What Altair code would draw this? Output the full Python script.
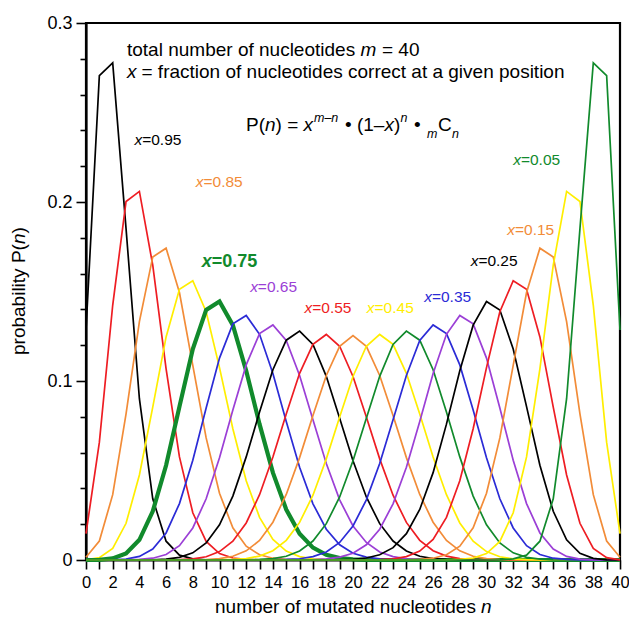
import altair as alt
import pandas as pd

# ---------------- data ----------------
N = list(range(41))
FRACTIONS = ["0.95", "0.90", "0.85", "0.80", "0.75", "0.70", "0.65", "0.60", "0.55", "0.50",
             "0.45", "0.40", "0.35", "0.30", "0.25", "0.20", "0.15", "0.10", "0.05"]

P_095 = [0.1285, 0.2706, 0.2777, 0.1851, 0.0901, 0.0342, 0.0105, 0.0027, 0.0006, 0.0001,
         0, 0, 0, 0, 0, 0, 0, 0, 0, 0,
         0, 0, 0, 0, 0, 0, 0, 0, 0, 0,
         0, 0, 0, 0, 0, 0, 0, 0, 0, 0,
         0]
P_090 = [0.0148, 0.0657, 0.1423, 0.2003, 0.2059, 0.1647, 0.1068, 0.0576, 0.0264, 0.0104,
         0.0036, 0.0011, 0.0003, 0.0001, 0, 0, 0, 0, 0, 0,
         0, 0, 0, 0, 0, 0, 0, 0, 0, 0,
         0, 0, 0, 0, 0, 0, 0, 0, 0, 0,
         0]
P_085 = [0.0015, 0.0106, 0.0365, 0.0816, 0.1332, 0.1693, 0.1742, 0.1494, 0.1087, 0.0682,
         0.0373, 0.0180, 0.0077, 0.0029, 0.0010, 0.0003, 0.0001, 0, 0, 0,
         0, 0, 0, 0, 0, 0, 0, 0, 0, 0,
         0, 0, 0, 0, 0, 0, 0, 0, 0, 0,
         0]
P_080 = [0.0001, 0.0013, 0.0065, 0.0205, 0.0475, 0.0854, 0.1246, 0.1513, 0.1560, 0.1387,
         0.1075, 0.0733, 0.0443, 0.0238, 0.0115, 0.0050, 0.0019, 0.0007, 0.0002, 0.0001,
         0, 0, 0, 0, 0, 0, 0, 0, 0, 0,
         0, 0, 0, 0, 0, 0, 0, 0, 0, 0,
         0]
P_075 = [0, 0.0001, 0.0009, 0.0037, 0.0113, 0.0272, 0.0529, 0.0857, 0.1179, 0.1397,
         0.1444, 0.1312, 0.1057, 0.0759, 0.0488, 0.0282, 0.0147, 0.0069, 0.0029, 0.0011,
         0.0004, 0.0001, 0, 0, 0, 0, 0, 0, 0, 0,
         0, 0, 0, 0, 0, 0, 0, 0, 0, 0,
         0]
P_070 = [0, 0, 0.0001, 0.0005, 0.0020, 0.0061, 0.0151, 0.0315, 0.0557, 0.0849,
         0.1128, 0.1319, 0.1366, 0.1261, 0.1042, 0.0774, 0.0518, 0.0314, 0.0172, 0.0085,
         0.0038, 0.0016, 0.0006, 0.0002, 0.0001, 0, 0, 0, 0, 0,
         0, 0, 0, 0, 0, 0, 0, 0, 0, 0,
         0]
P_065 = [0, 0, 0, 0.0001, 0.0003, 0.0010, 0.0031, 0.0080, 0.0179, 0.0342,
         0.0571, 0.0838, 0.1090, 0.1265, 0.1313, 0.1226, 0.1031, 0.0784, 0.0539, 0.0336,
         0.0190, 0.0098, 0.0045, 0.0019, 0.0007, 0.0003, 0.0001, 0, 0, 0,
         0, 0, 0, 0, 0, 0, 0, 0, 0, 0,
         0]
P_060 = [0, 0, 0, 0, 0, 0.0001, 0.0005, 0.0015, 0.0040, 0.0095,
         0.0197, 0.0357, 0.0576, 0.0827, 0.1063, 0.1228, 0.1279, 0.1204, 0.1026, 0.0792,
         0.0554, 0.0352, 0.0203, 0.0106, 0.0050, 0.0021, 0.0008, 0.0003, 0.0001, 0,
         0, 0, 0, 0, 0, 0, 0, 0, 0, 0,
         0]
P_055 = [0, 0, 0, 0, 0, 0, 0, 0.0002, 0.0006, 0.0018,
         0.0047, 0.0105, 0.0207, 0.0365, 0.0575, 0.0816, 0.1043, 0.1205, 0.1260, 0.1194,
         0.1025, 0.0799, 0.0565, 0.0362, 0.0210, 0.0110, 0.0052, 0.0022, 0.0008, 0.0003,
         0.0001, 0, 0, 0, 0, 0, 0, 0, 0, 0,
         0]
P_050 = [0, 0, 0, 0, 0, 0, 0, 0, 0.0001, 0.0002,
         0.0008, 0.0021, 0.0051, 0.0109, 0.0211, 0.0366, 0.0572, 0.0807, 0.1031, 0.1194,
         0.1254, 0.1194, 0.1031, 0.0807, 0.0572, 0.0366, 0.0211, 0.0109, 0.0051, 0.0021,
         0.0008, 0.0002, 0.0001, 0, 0, 0, 0, 0, 0, 0,
         0]
P_045 = [0, 0, 0, 0, 0, 0, 0, 0, 0, 0,
         0.0001, 0.0003, 0.0008, 0.0022, 0.0052, 0.0110, 0.0210, 0.0362, 0.0565, 0.0799,
         0.1025, 0.1194, 0.1260, 0.1205, 0.1043, 0.0816, 0.0575, 0.0365, 0.0207, 0.0105,
         0.0047, 0.0018, 0.0006, 0.0002, 0, 0, 0, 0, 0, 0,
         0]
P_040 = [0, 0, 0, 0, 0, 0, 0, 0, 0, 0,
         0, 0, 0.0001, 0.0003, 0.0008, 0.0021, 0.0050, 0.0106, 0.0203, 0.0352,
         0.0554, 0.0792, 0.1026, 0.1204, 0.1279, 0.1228, 0.1063, 0.0827, 0.0576, 0.0357,
         0.0197, 0.0095, 0.0040, 0.0015, 0.0005, 0.0001, 0, 0, 0, 0,
         0]
P_035 = [0, 0, 0, 0, 0, 0, 0, 0, 0, 0,
         0, 0, 0, 0, 0.0001, 0.0003, 0.0007, 0.0019, 0.0045, 0.0098,
         0.0190, 0.0336, 0.0539, 0.0784, 0.1031, 0.1226, 0.1313, 0.1265, 0.1090, 0.0838,
         0.0571, 0.0342, 0.0179, 0.0080, 0.0031, 0.0010, 0.0003, 0.0001, 0, 0,
         0]
P_030 = [0, 0, 0, 0, 0, 0, 0, 0, 0, 0,
         0, 0, 0, 0, 0, 0, 0.0001, 0.0002, 0.0006, 0.0016,
         0.0038, 0.0085, 0.0172, 0.0314, 0.0518, 0.0774, 0.1042, 0.1261, 0.1366, 0.1319,
         0.1128, 0.0849, 0.0557, 0.0315, 0.0151, 0.0061, 0.0020, 0.0005, 0.0001, 0,
         0]
P_025 = [0, 0, 0, 0, 0, 0, 0, 0, 0, 0,
         0, 0, 0, 0, 0, 0, 0, 0, 0, 0.0001,
         0.0004, 0.0011, 0.0029, 0.0069, 0.0147, 0.0282, 0.0488, 0.0759, 0.1057, 0.1312,
         0.1444, 0.1397, 0.1179, 0.0857, 0.0529, 0.0272, 0.0113, 0.0037, 0.0009, 0.0001,
         0]
P_020 = [0, 0, 0, 0, 0, 0, 0, 0, 0, 0,
         0, 0, 0, 0, 0, 0, 0, 0, 0, 0,
         0, 0.0001, 0.0002, 0.0007, 0.0019, 0.0050, 0.0115, 0.0238, 0.0443, 0.0733,
         0.1075, 0.1387, 0.1560, 0.1513, 0.1246, 0.0854, 0.0475, 0.0205, 0.0065, 0.0013,
         0.0001]
P_015 = [0, 0, 0, 0, 0, 0, 0, 0, 0, 0,
         0, 0, 0, 0, 0, 0, 0, 0, 0, 0,
         0, 0, 0, 0, 0.0001, 0.0003, 0.0010, 0.0029, 0.0077, 0.0180,
         0.0373, 0.0682, 0.1087, 0.1494, 0.1742, 0.1693, 0.1332, 0.0816, 0.0365, 0.0106,
         0.0015]
P_010 = [0, 0, 0, 0, 0, 0, 0, 0, 0, 0,
         0, 0, 0, 0, 0, 0, 0, 0, 0, 0,
         0, 0, 0, 0, 0, 0, 0, 0.0001, 0.0003, 0.0011,
         0.0036, 0.0104, 0.0264, 0.0576, 0.1068, 0.1647, 0.2059, 0.2003, 0.1423, 0.0657,
         0.0148]
P_005 = [0, 0, 0, 0, 0, 0, 0, 0, 0, 0,
         0, 0, 0, 0, 0, 0, 0, 0, 0, 0,
         0, 0, 0, 0, 0, 0, 0, 0, 0, 0,
         0, 0.0001, 0.0006, 0.0027, 0.0105, 0.0342, 0.0901, 0.1851, 0.2777, 0.2706,
         0.1285]

SERIES = [P_095, P_090, P_085, P_080, P_075, P_070, P_065, P_060, P_055, P_050,
          P_045, P_040, P_035, P_030, P_025, P_020, P_015, P_010, P_005]

LABELED = ["0.95", "0.85", "0.75", "0.65", "0.55", "0.45", "0.35", "0.25", "0.15", "0.05"]

Y_MAJOR = [0, 0.1, 0.2, 0.3]
Y_MINOR = [0.02, 0.04, 0.06, 0.08, 0.12, 0.14, 0.16, 0.18, 0.22, 0.24, 0.26, 0.28]

TEXT_LINE1 = ["total number of nucleotides", "m", "= 40"]
TEXT_LINE2 = ["x", "= fraction of nucleotides correct at a given position"]
X_TITLE = ["number of mutated nucleotides", "n"]
Y_TITLE = ["probability P(", "n", ")"]

# ---------------- styles / layout ----------------
CYCLE = ["#000000", "#EE1D23", "#F28C38", "#FFEE00", "#118A2C", "#2B2BD6", "#9B3FD6"]
BOLD_SERIES = "0.75"
FONT = "Liberation Sans"
OX, OY = 86, 23          # page position of the plot origin
W, H = 534, 537
SX = W / 540.0           # horizontal rescale of positions measured on the reference

LABEL_POS = {
    "0.95": (135, 140), "0.85": (197, 182), "0.75": (203, 262), "0.65": (252, 287),
    "0.55": (307, 308), "0.45": (370, 308), "0.35": (428, 297), "0.25": (475, 261),
    "0.15": (512, 230), "0.05": (518, 160),
}

rows = []
for i, (frac, vals) in enumerate(zip(FRACTIONS, SERIES)):
    assert len(vals) == 41
    col = CYCLE[i % len(CYCLE)]
    w = 4.2 if frac == BOLD_SERIES else 1.7
    for n, v in zip(N, vals):
        rows.append({"n": n, "p": v, "x": frac, "color": col, "w": w})
df = pd.DataFrame(rows)
color_of = {f: CYCLE[i % len(CYCLE)] for i, f in enumerate(FRACTIONS)}

x_enc = alt.X("n:Q", scale=alt.Scale(domain=[0, 40], nice=False, zero=False),
              axis=alt.Axis(values=N, labelExpr="datum.value % 2 == 0 ? datum.label : ''",
                            tickSize=9, labelFontSize=16.5, labelPadding=5, title=None,
                            grid=False, labelAngle=0, labelOverlap=False, labelFlush=False,
                            orient="bottom"))
y_scale = alt.Scale(domain=[0, 0.3], nice=False, zero=True)

lines = alt.Chart(df).mark_line(strokeJoin="miter").encode(
    x=x_enc,
    y=alt.Y("p:Q", scale=y_scale,
            axis=alt.Axis(values=Y_MAJOR, tickSize=10, labelFontSize=18, labelPadding=4,
                          labelExpr="datum.value == 0 ? '0' : format(datum.value, '.1f')",
                          title=None, grid=False, labelFlush=False, orient="left")),
    color=alt.Color("color:N", scale=None),
    strokeWidth=alt.StrokeWidth("w:Q", scale=None),
    detail="x:N",
)

minor = alt.Chart(pd.DataFrame({"p": Y_MINOR})).mark_point(opacity=0).encode(
    y=alt.Y("p:Q", scale=y_scale,
            axis=alt.Axis(values=Y_MINOR, labels=False, tickSize=6, domain=False,
                          title=None, grid=False, orient="left")),
)


def txt(s, px, py, size=19, style="normal", weight="normal", color="#000000",
        align="left", baseline="alphabetic", angle=0):
    return alt.Chart(pd.DataFrame({"t": [s]})).mark_text(
        align=align, baseline=baseline, font=FONT, fontSize=size, fontStyle=style,
        fontWeight=weight, color=color, angle=angle,
    ).encode(x=alt.value(px - OX), y=alt.value(py - OY), text="t:N")


def sx(px):
    return OX + (px - OX) * SX


layers = [lines, minor]

# header lines
layers += [
    txt(TEXT_LINE1[0], 127, 56),
    txt(TEXT_LINE1[1], 360.5, 56, style="italic"),
    txt(TEXT_LINE1[2], 382, 56),
    txt(TEXT_LINE2[0], 127, 78, style="italic"),
    txt(TEXT_LINE2[1], 141.5, 78),
]

# formula  P(n) = x^(m-n) • (1-x)^n • mCn
layers += [
    txt("P(", 246, 131),
    txt("n", 265, 131, style="italic"),
    txt(") =", 275.6, 131),
    txt("x", 303.6, 131, style="italic"),
    txt("m\u2013n", 314, 122, size=12.5, style="italic"),
    txt("\u2022 (1\u2013", 345, 131),
    txt("x", 384.5, 131, style="italic"),
    txt(")", 394, 131),
    txt("n", 400.5, 122, size=12.5, style="italic"),
    txt("\u2022", 414, 131),
    txt("m", 427, 138, size=12.5, style="italic"),
    txt("C", 438, 131),
    txt("n", 452, 138, size=12.5, style="italic"),
]

# curve labels
for lab in LABELED:
    px, py = LABEL_POS[lab]
    px = sx(px)
    col = color_of[lab]
    if lab == BOLD_SERIES:
        layers += [txt("x", px, py, size=18, style="italic", weight="bold", color=col, baseline="middle"),
                   txt("=" + lab, px + 10, py, size=18, weight="bold", color=col, baseline="middle")]
    else:
        layers += [txt("x", px, py, size=15.5, style="italic", color=col, baseline="middle"),
                   txt("=" + lab, px + 7.7, py, size=15.5, color=col, baseline="middle")]

# axis titles
layers += [
    txt(X_TITLE[0], 215, 613),
    txt(X_TITLE[1], 481, 613, style="italic"),
    txt(Y_TITLE[0], 25, 355, angle=270),
    txt(Y_TITLE[1], 25, 244.1, angle=270, style="italic"),
    txt(Y_TITLE[2], 25, 233.5, angle=270),
]

chart = alt.layer(*layers).resolve_axis(y="independent").properties(
    width=W, height=H,
    autosize=alt.AutoSizeParams(type="none"),
    padding={"left": OX - 8, "top": OY - 8, "right": 9, "bottom": 60},
).configure_view(stroke="#000000", strokeWidth=2.2).configure_axis(
    domainColor="#000000", domainWidth=2.2, tickColor="#000000", tickWidth=1.6,
    labelColor="#000000", labelFont=FONT,
)

chart.save("out.html", embed_options={"renderer": "svg", "actions": False})
